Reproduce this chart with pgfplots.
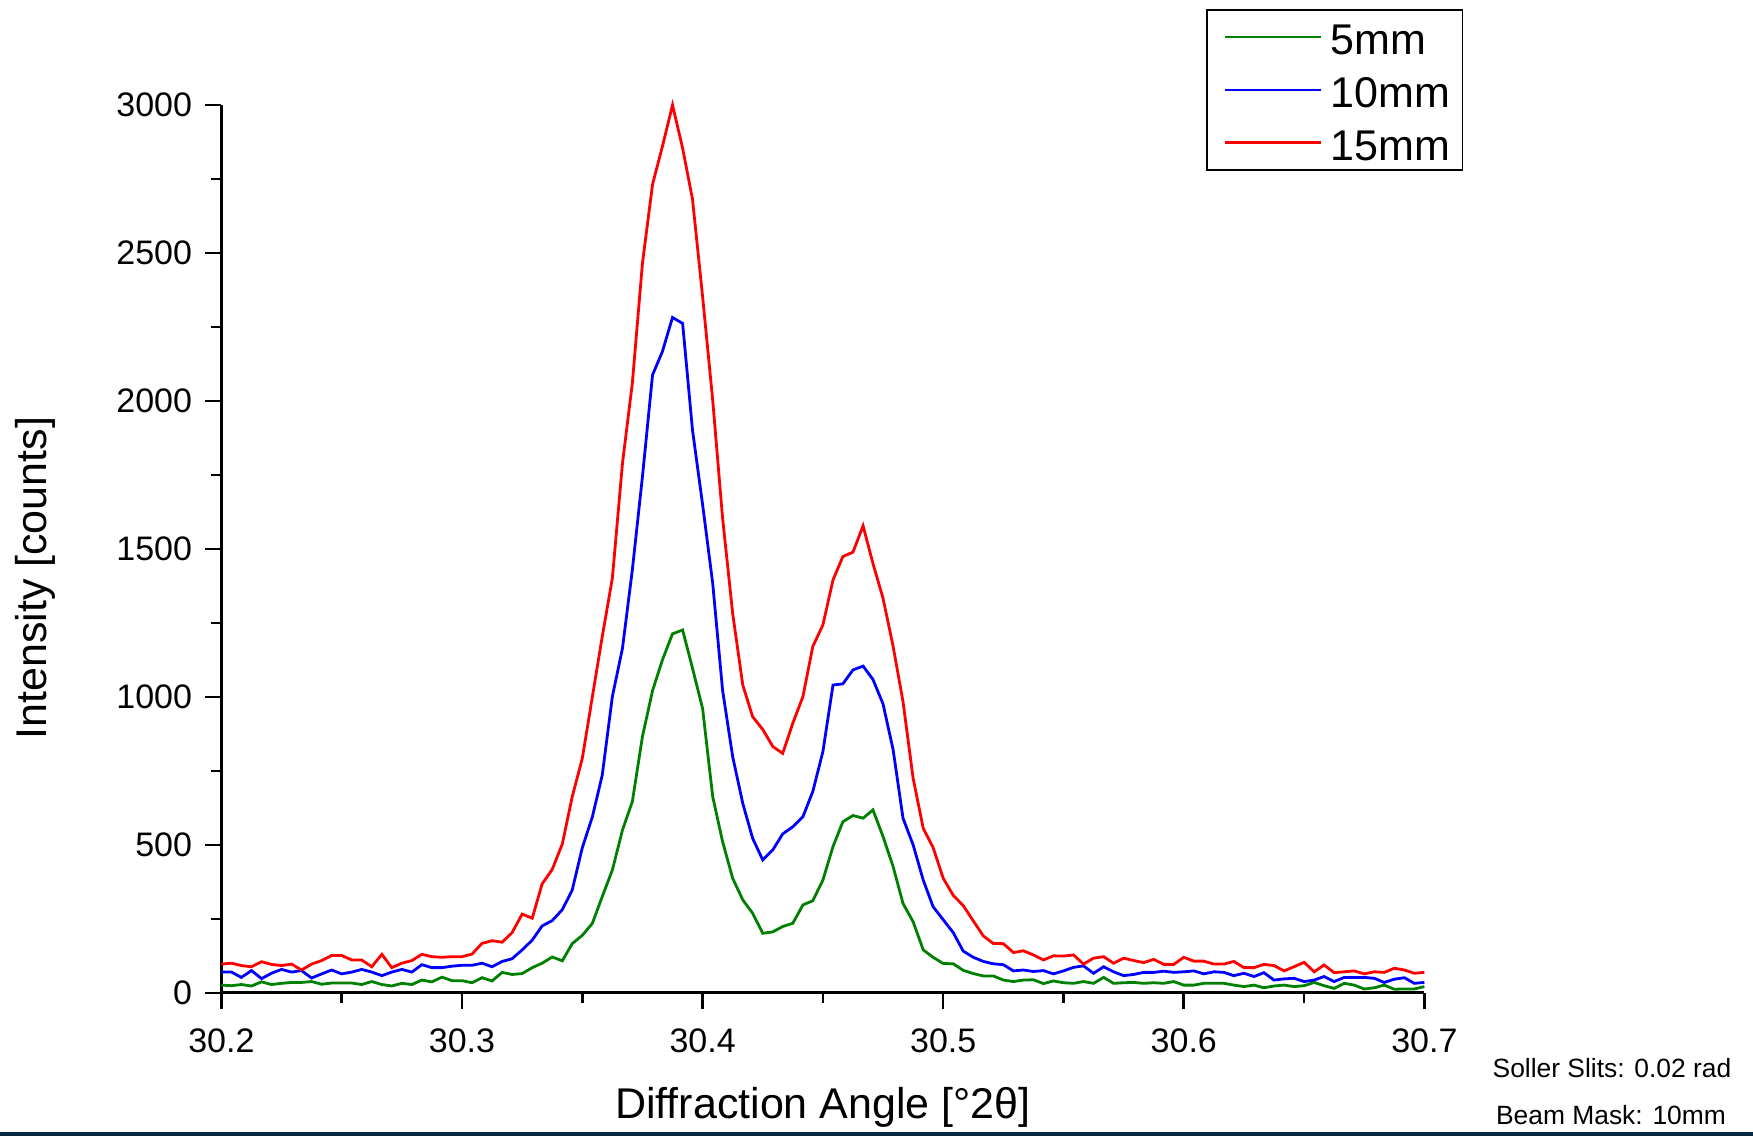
\documentclass[border=0pt]{standalone}
\usepackage{pgfplots}
\pgfplotsset{compat=1.18}
\usepackage{pgfplotstable}
\usepackage{fontspec}
\setmainfont{Liberation Sans}
\definecolor{sgreen}{RGB}{0,128,0}
\definecolor{sblue}{RGB}{0,0,255}
\definecolor{sred}{RGB}{255,0,0}
\definecolor{darkline}{RGB}{10,41,64}
\pgfplotstableread{
x g b r
30.2000 26 70 97
30.2042 24 70 100
30.2083 28 52 92
30.2125 23 75 88
30.2167 37 48 105
30.2208 28 66 96
30.2250 32 79 92
30.2292 35 70 97
30.2333 35 75 77
30.2375 38 50 97
30.2417 29 64 109
30.2458 33 77 126
30.2500 33 64 126
30.2542 33 70 111
30.2583 28 79 111
30.2625 38 70 88
30.2667 28 58 130
30.2708 23 70 85
30.2750 32 79 100
30.2792 28 70 109
30.2833 43 95 130
30.2875 37 85 122
30.2917 53 85 120
30.2958 41 90 122
30.3000 41 93 122
30.3042 34 93 131
30.3083 51 100 167
30.3125 40 88 176
30.3167 69 106 171
30.3208 62 115 203
30.3250 65 145 266
30.3292 85 178 252
30.3333 100 226 368
30.3375 121 244 417
30.3417 108 281 503
30.3458 166 347 662
30.3500 194 490 792
30.3542 235 595 1001
30.3583 325 736 1204
30.3625 415 1001 1401
30.3667 550 1164 1789
30.3708 646 1429 2060
30.3750 866 1744 2465
30.3792 1021 2088 2732
30.3833 1125 2167 2860
30.3875 1213 2282 3000
30.3917 1226 2262 2854
30.3958 1097 1902 2682
30.4000 961 1650 2353
30.4042 663 1384 2003
30.4083 511 1023 1605
30.4125 387 798 1282
30.4167 314 640 1040
30.4208 269 522 933
30.4250 201 449 890
30.4292 206 483 832
30.4333 224 537 809
30.4375 235 561 911
30.4417 297 595 1001
30.4458 311 680 1170
30.4500 381 815 1243
30.4542 494 1040 1395
30.4583 578 1044 1474
30.4625 599 1091 1489
30.4667 590 1104 1578
30.4708 618 1059 1451
30.4750 528 976 1333
30.4792 426 821 1170
30.4833 302 590 984
30.4875 240 500 725
30.4917 145 381 556
30.4958 120 291 491
30.5000 99 247 387
30.5042 98 203 329
30.5083 76 141 295
30.5125 65 120 243
30.5167 57 106 192
30.5208 57 98 167
30.5250 43 95 166
30.5292 38 74 136
30.5333 43 77 142
30.5375 44 72 128
30.5417 31 75 111
30.5458 40 64 125
30.5500 34 74 124
30.5542 32 86 128
30.5583 38 91 97
30.5625 32 66 117
30.5667 52 88 122
30.5708 32 71 100
30.5750 34 58 117
30.5792 35 62 109
30.5833 32 69 102
30.5875 34 69 113
30.5917 32 73 96
30.5958 38 69 96
30.6000 26 71 120
30.6042 26 74 107
30.6083 32 64 107
30.6125 32 71 97
30.6167 32 69 97
30.6208 26 58 106
30.6250 21 66 85
30.6292 26 55 85
30.6333 17 68 96
30.6375 23 43 92
30.6417 26 47 74
30.6458 21 49 88
30.6500 24 38 103
30.6542 35 43 71
30.6583 24 55 94
30.6625 15 38 68
30.6667 32 52 71
30.6708 26 52 74
30.6750 13 52 64
30.6792 17 49 71
30.6833 26 35 69
30.6875 12 46 83
30.6917 13 51 77
30.6958 13 32 66
30.7000 21 35 69
}\datatable
\begin{document}
\begin{tikzpicture}
\path[use as bounding box] (-110.7pt,-71.6pt) rectangle (765.8pt,496.4pt);
\fill[darkline] (-110.7pt,-71.6pt) rectangle (765.8pt,-69.6pt);
\begin{axis}[
  at={(0pt,0pt)}, anchor=south west,
  scale only axis, width=601.5pt, height=443.9pt,
  xmin=30.2, xmax=30.7, ymin=0, ymax=3000,
  axis lines=left, axis line style={-, line width=1.5pt},
  clip=false,
  xtick={30.2,30.3,30.4,30.5,30.6,30.7},
  ytick={0,500,1000,1500,2000,2500,3000},
  minor x tick num=1, minor y tick num=1,
  tick align=outside,
  major tick length=8pt, minor tick length=5pt,
  every tick/.style={black, line width=1.3pt},
  /pgf/number format/assume math mode=true,
  /pgf/number format/1000 sep={},
  xticklabel style={/pgf/number format/fixed, /pgf/number format/precision=1, font=\fontsize{17}{20}\selectfont, anchor=base, inner sep=0pt, yshift=-21.6pt},
  yticklabel style={font=\fontsize{17}{20}\selectfont, anchor=east, inner sep=0pt, xshift=-6.5pt},
  xlabel={Diffraction Angle [°2θ]},
  ylabel={Intensity [counts]},
  xlabel style={font=\fontsize{21.5}{25}\selectfont, at={(axis description cs:0.5,0)}, anchor=center, yshift=-57.5pt},
  ylabel style={font=\fontsize{21.5}{25}\selectfont, at={(axis description cs:-0.1543,0.467)}, anchor=center},
  legend style={at={(0.8185,1.108)}, anchor=north west, draw=black, line width=0.8pt,
    font=\fontsize{21.5}{25}\selectfont, inner xsep=4pt, inner ysep=0.5pt,
    row sep=0pt,
    nodes={text height=20pt, text depth=2.3pt, inner ysep=2pt},
    /tikz/every odd column/.append style={column sep=2.2pt}},
  legend cell align=left,
  legend image code/.code={\path (0pt,0pt); \draw[#1, line width=1.2pt] (4.5pt,0pt) -- (52.5pt,0pt);},
]
\addplot[sgreen, line width=1.4pt] table[x=x, y=g] {\datatable};
\addlegendentry{5mm}
\addplot[sblue, line width=1.4pt] table[x=x, y=b] {\datatable};
\addlegendentry{10mm}
\addplot[sred, line width=1.4pt] table[x=x, y=r] {\datatable};
\addlegendentry{15mm}
\end{axis}
\node[font=\fontsize{13.2}{15}\selectfont] at (695.3pt,-37.6pt) {Soller Slits: 0.02 rad};
\node[font=\fontsize{13.2}{15}\selectfont] at (694.8pt,-61.1pt) {Beam Mask: 10mm};
\end{tikzpicture}
\end{document}
